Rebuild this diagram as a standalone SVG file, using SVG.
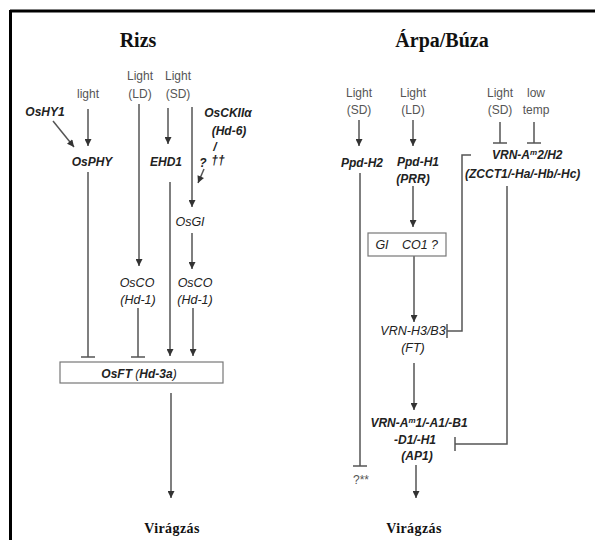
<svg xmlns="http://www.w3.org/2000/svg" width="595" height="540" viewBox="0 0 595 540">
<style>
.t{font-family:"Liberation Serif","Times New Roman",serif;font-weight:bold;fill:#111;text-anchor:middle}
.l{font-family:"Liberation Sans",Arial,sans-serif;font-size:12px;fill:#555;text-anchor:middle}
.g{font-family:"Liberation Sans",Arial,sans-serif;font-size:12px;font-style:italic;font-weight:bold;fill:#222;text-anchor:middle}
.n{font-family:"Liberation Sans",Arial,sans-serif;font-size:12.5px;font-style:italic;fill:#222;text-anchor:middle}
.s{text-anchor:start}
.c line,.c path{stroke:#555;stroke-width:1.5;fill:none}
.box{fill:#fff;stroke:#777;stroke-width:1.2}
</style>
<defs>
<marker id="arr" viewBox="0 0 10 10" refX="10" refY="5" markerWidth="8" markerHeight="7" markerUnits="userSpaceOnUse" orient="auto"><path d="M0,0 L10,5 L0,10 z" fill="#333"/></marker>
<marker id="tee" viewBox="-1 -8 2 16" refX="0" refY="0" markerWidth="2" markerHeight="16" markerUnits="userSpaceOnUse" orient="auto"><line x1="0" y1="-7" x2="0" y2="7" stroke="#555" stroke-width="1.5"/></marker>
</defs>
<rect width="595" height="540" fill="#fff"/>
<g id="frame">
<line x1="10" y1="11" x2="595" y2="11" stroke="#000" stroke-width="3"/>
<line x1="10.5" y1="10" x2="10.5" y2="540" stroke="#000" stroke-width="3"/>
</g>
<g id="titles">
<text class="t" x="138" y="47" font-size="20">Rizs</text>
<text class="t" x="442" y="47" font-size="20">Árpa/Búza</text>
</g>
<g id="connectors" class="c">
<line x1="53" y1="121" x2="74" y2="147" marker-end="url(#arr)"/>
<line x1="88" y1="109" x2="88" y2="146" marker-end="url(#arr)"/>
<line x1="139" y1="104" x2="139" y2="266" marker-end="url(#arr)"/>
<line x1="168" y1="108" x2="168" y2="144" marker-end="url(#arr)"/>
<line x1="192" y1="107" x2="192" y2="207" marker-end="url(#arr)"/>
<line x1="204" y1="169" x2="198" y2="183" marker-end="url(#arr)"/>
<line x1="88" y1="172" x2="88" y2="357" marker-end="url(#tee)"/>
<line x1="170" y1="182" x2="170" y2="356" marker-end="url(#arr)"/>
<line x1="192" y1="233" x2="192" y2="269" marker-end="url(#arr)"/>
<line x1="138" y1="308" x2="138" y2="357" marker-end="url(#tee)"/>
<line x1="193" y1="308" x2="193" y2="356" marker-end="url(#arr)"/>
<line x1="171" y1="393" x2="171" y2="498" marker-end="url(#arr)"/>
<line x1="359" y1="120" x2="359" y2="146" marker-end="url(#arr)"/>
<line x1="413" y1="120" x2="413" y2="146" marker-end="url(#arr)"/>
<line x1="500" y1="122" x2="500" y2="143" marker-end="url(#tee)"/>
<line x1="534" y1="122" x2="534" y2="143" marker-end="url(#tee)"/>
<line x1="360" y1="173" x2="360" y2="466" marker-end="url(#tee)"/>
<line x1="413" y1="186" x2="413" y2="227" marker-end="url(#arr)"/>
<line x1="414" y1="256" x2="414" y2="322" marker-end="url(#arr)"/>
<path d="M471,155 H462 V331 H447" marker-end="url(#tee)"/>
<line x1="414" y1="363" x2="414" y2="410" marker-end="url(#arr)"/>
<path d="M507,186 V444 H455" marker-end="url(#tee)"/>
<line x1="416" y1="465" x2="416" y2="498" marker-end="url(#arr)"/>
</g>
<g id="n-light"><text class="l" x="88" y="98">light</text></g>
<g id="n-light-ld"><text class="l" x="140" y="80">Light</text><text class="l" x="140" y="98">(LD)</text></g>
<g id="n-light-sd"><text class="l" x="178" y="80">Light</text><text class="l" x="178" y="98">(SD)</text></g>
<g id="n-oshy1"><text class="g" x="45" y="116">OsHY1</text></g>
<g id="n-osckii"><text class="g" x="228" y="117">OsCKIIα</text><text class="g" x="229" y="135">(Hd-6)</text>
<text class="g" x="215" y="151">/</text>
<text class="g" x="203" y="167" font-size="11">?</text><text class="g" x="218" y="164" font-size="9">††</text></g>
<g id="n-osphy"><text class="g" x="92" y="166">OsPHY</text></g>
<g id="n-ehd1"><text class="g" x="166" y="166">EHD1</text></g>
<g id="n-osgi"><text class="n" x="190" y="226">OsGI</text></g>
<g id="n-osco1"><text class="n" x="137" y="287">OsCO</text><text class="n" x="138" y="304">(Hd-1)</text></g>
<g id="n-osco2"><text class="n" x="195" y="287">OsCO</text><text class="n" x="195" y="304">(Hd-1)</text></g>
<g id="n-osft"><rect class="box" x="60" y="362" width="163" height="21"/><text class="g" x="139" y="378" font-size="12.5">OsFT <tspan font-weight="normal">(</tspan>Hd-3a<tspan font-weight="normal">)</tspan></text></g>
<g id="n-vir1"><text class="t" x="172" y="533" font-size="14" letter-spacing="0.4">Virágzás</text></g>
<g id="n-r-light-sd"><text class="l" x="359" y="97">Light</text><text class="l" x="359" y="114">(SD)</text></g>
<g id="n-r-light-ld"><text class="l" x="413" y="97">Light</text><text class="l" x="413" y="114">(LD)</text></g>
<g id="n-r-light-sd2"><text class="l" x="500" y="97">Light</text><text class="l" x="500" y="114">(SD)</text></g>
<g id="n-lowtemp"><text class="l" x="536" y="97">low</text><text class="l" x="536" y="114">temp</text></g>
<g id="n-ppdh2"><text class="g" x="362" y="167">Ppd-H2</text></g>
<g id="n-ppdh1"><text class="g" x="418" y="166">Ppd-H1</text><text class="g" x="413" y="183">(PRR)</text></g>
<g id="n-vrn2"><text class="g s" x="492" y="159">VRN-A<tspan font-size="8" dy="-4">m</tspan><tspan dy="4">2/H2</tspan></text><text class="g s" x="465" y="178" font-size="11">(ZCCT1/-Ha/-Hb/-Hc)</text></g>
<g id="n-gico1"><rect class="box" x="368" y="233" width="78" height="23"/><text class="n" x="382" y="249">GI</text><text class="n" x="420" y="249">CO1 ?</text></g>
<g id="n-vrn3"><text class="n" x="413" y="335">VRN-H3/B3</text><text class="n" x="413" y="352">(FT)</text></g>
<g id="n-vrn1"><text class="g" x="419" y="427">VRN-A<tspan font-size="8" dy="-4">m</tspan><tspan dy="4">1/-A1/-B1</tspan></text><text class="g" x="415" y="444">-D1/-H1</text><text class="g" x="417" y="460">(AP1)</text></g>
<g id="n-q"><text class="l" x="361" y="484" font-size="10">?**</text></g>
<g id="n-vir2"><text class="t" x="414" y="533" font-size="14" letter-spacing="0.4">Virágzás</text></g>
</svg>
